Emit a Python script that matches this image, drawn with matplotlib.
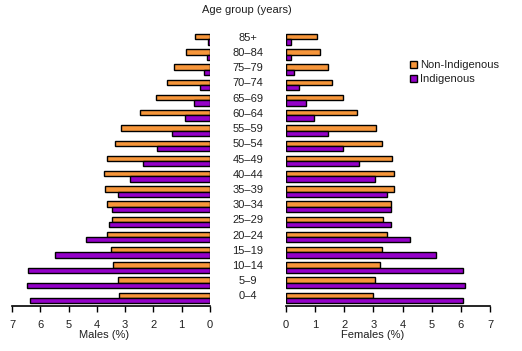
import matplotlib.pyplot as plt
import matplotlib.transforms as mtransforms
import numpy as np

plt.rcParams['font.family'] = ['Liberation Sans', 'DejaVu Sans']

# Age groups, youngest first (0-4 at the bottom)
ages = ['0–4', '5–9', '10–14', '15–19', '20–24', '25–29', '30–34', '35–39', '40–44',
        '45–49', '50–54', '55–59', '60–64', '65–69', '70–74', '75–79', '80–84', '85+']

# Percent of population
male_non = [3.20, 3.27, 3.42, 3.49, 3.63, 3.45, 3.63, 3.70, 3.73,
            3.63, 3.35, 3.13, 2.46, 1.90, 1.51, 1.27, 0.85, 0.53]
male_ind = [6.37, 6.48, 6.44, 5.49, 4.40, 3.56, 3.45, 3.24, 2.82,
            2.36, 1.87, 1.34, 0.88, 0.56, 0.35, 0.21, 0.11, 0.07]
female_non = [2.97, 3.07, 3.21, 3.28, 3.45, 3.34, 3.59, 3.69, 3.72,
              3.65, 3.31, 3.10, 2.43, 1.94, 1.59, 1.45, 1.18, 1.08]
female_ind = [6.09, 6.13, 6.06, 5.13, 4.27, 3.59, 3.59, 3.48, 3.04,
              2.49, 1.97, 1.45, 0.97, 0.70, 0.46, 0.29, 0.16, 0.16]

orange = '#F7963A'
purple = '#9400C8'
txt = '#202020'

y = np.arange(len(ages))
h = 0.35

fig = plt.figure(figsize=(5.22, 3.51), dpi=100)
ax_m = fig.add_axes([12 / 522, 0.128, 198 / 522, 0.7815])
ax_f = fig.add_axes([286 / 522, 0.128, 204 / 522, 0.7815])

for ax, non, ind in [(ax_m, male_non, male_ind), (ax_f, female_non, female_ind)]:
    ax.barh(y + h / 2, non, h, color=orange, edgecolor='black', linewidth=1, label='Non-Indigenous')
    ax.barh(y - h / 2, ind, h, color=purple, edgecolor='black', linewidth=1, label='Indigenous')
    ax.set_xlim(0, 7)
    ax.set_ylim(-0.53, 17.5)
    ax.set_xticks(range(8))
    ax.set_yticks([])
    for s in ['top', 'left', 'right']:
        ax.spines[s].set_visible(False)
    ax.spines['bottom'].set_linewidth(1.2)
    ax.tick_params(axis='x', direction='out', length=4, width=1, labelsize=8,
                   colors='black', labelcolor=txt, pad=6)

ax_m.invert_xaxis()

fig.text(104 / 522, 1 - 335 / 351, 'Males (%)', ha='center', va='center', fontsize=8, color=txt)
fig.text(373 / 522, 1 - 335 / 351, 'Females (%)', ha='center', va='center', fontsize=8, color=txt)
fig.text(247 / 522, 1 - 10 / 351, 'Age group (years)', ha='center', va='center', fontsize=8, color=txt)

# age labels between the two panels
trans = mtransforms.blended_transform_factory(fig.transFigure, ax_m.transData)
for i, a in enumerate(ages):
    fig.text(248 / 522, i + 0.1, a, ha='center', va='center', fontsize=8, color=txt, transform=trans)

ax_f.legend(loc='upper left', bbox_to_anchor=(406 / 522, 1 - 56 / 351), bbox_transform=fig.transFigure,
            frameon=False, fontsize=8, handlelength=0.6, handleheight=0.6, handletextpad=0.3,
            labelspacing=0.35, borderaxespad=0, labelcolor=txt)

fig.savefig('out.png', dpi=100)
